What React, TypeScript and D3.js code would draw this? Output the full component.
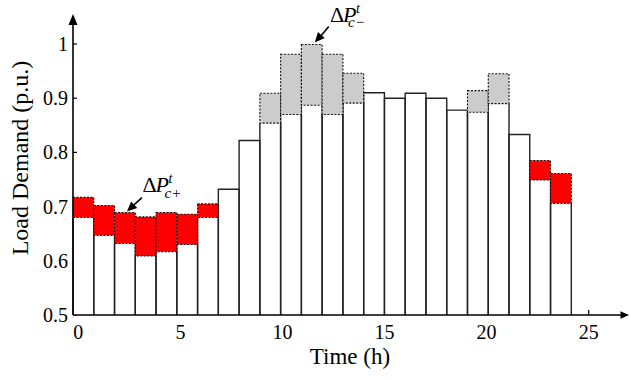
import React from "react";
import * as d3 from "d3";

const hours = [1,2,3,4,5,6,7,8,9,10,11,12,13,14,15,16,17,18,19,20,21,22,23,24];
// top of the white (final) load bar
const baseLoad = [0.680,0.647,0.632,0.609,0.617,0.630,0.680,0.732,0.822,0.854,0.870,0.887,0.870,0.891,0.910,0.900,0.909,0.900,0.878,0.874,0.890,0.833,0.749,0.706];
// load added (red, ΔP c+) – top of the red block
const addedTop = [0.717,0.702,0.689,0.681,0.689,0.686,0.705,null,null,null,null,null,null,null,null,null,null,null,null,null,null,null,0.785,0.761];
// load cut (grey, ΔP c−) – top of the grey block
const cutTop = [null,null,null,null,null,null,null,null,null,0.909,0.981,0.999,0.981,0.946,null,null,null,null,null,0.914,0.945,null,null,null];
const xTicks = [0,5,10,15,20,25];
const yTicks = [0.5,0.6,0.7,0.8,0.9,1];
const yTickLabels = ["0.5","0.6","0.7","0.8","0.9","1"];

const W = 629, H = 379;
const FONT = "Liberation Serif, Times New Roman, serif";

export default function App() {
  const x = d3.scaleLinear().domain([0, 25]).range([78.3, 588.7]);
  const band = d3.scaleBand<number>().domain(hours).range([73, 571.3]).padding(0);
  const y = d3.scaleLinear().domain([0.5, 1.0]).range([315, 44]);
  const x0 = 73, y0 = 315;

  const bars = hours.map((h, i) => {
    const bx = band(h)!;
    const bw = band.bandwidth();
    const top = y(baseLoad[i]);
    const shaded = addedTop[i] != null || cutTop[i] != null;
    const outline = shaded
      ? `M${bx},${y0}V${top}M${bx + bw},${y0}V${top}`
      : `M${bx},${y0}V${top}H${bx + bw}V${y0}`;
    return { h, i, bx, bw, top, outline, shaded };
  });

  const shadeRects: { key: string; x: number; y: number; w: number; h: number; fill: string }[] = [];
  bars.forEach(b => {
    const a = addedTop[b.i];
    const c = cutTop[b.i];
    if (a != null) shadeRects.push({ key: "a" + b.h, x: b.bx, y: y(a), w: b.bw, h: b.top - y(a), fill: "#ff0000" });
    if (c != null) shadeRects.push({ key: "c" + b.h, x: b.bx, y: y(c), w: b.bw, h: b.top - y(c), fill: "#cccccc" });
  });

  // annotation anchors from data
  const topTipX = band(12)! + band.bandwidth() / 2 + 3;
  const topTipY = y(cutTop[11]!) - 2;
  const botTipX = band(3)! + band.bandwidth() / 2 + 2;
  const botTipY = y(addedTop[2]!) - 1;

  const arrowHead = (tx: number, ty: number, fx: number, fy: number, len = 10, wid = 4.5) => {
    const ang = Math.atan2(ty - fy, tx - fx);
    const bx = tx - len * Math.cos(ang), by = ty - len * Math.sin(ang);
    const px = -Math.sin(ang) * wid, py = Math.cos(ang) * wid;
    return `M${tx},${ty}L${bx + px},${by + py}L${bx - px},${by - py}Z`;
  };

  return (
    <svg width={W} height={H} style={{ position: "absolute", left: 0, top: 0, background: "#fff" }} fontFamily={FONT}>
      <rect x={0} y={0} width={W} height={H} fill="#fff" />
      {/* ticks (drawn below bars) */}
      {yTicks.map(t => (
        <line key={"yt" + t} x1={x0} x2={x0 + 4} y1={y(t)} y2={y(t)} stroke="#000" strokeWidth={1.2} />
      ))}
      {xTicks.map(t => (
        <line key={"xt" + t} x1={x(t)} x2={x(t)} y1={y0} y2={y0 - 5} stroke="#000" strokeWidth={1.2} />
      ))}
      {/* white bars */}
      {bars.map(b => (
        <rect key={"w" + b.h} x={b.bx} y={b.top} width={b.bw} height={y0 - b.top} fill="#fff" />
      ))}
      {bars.map(b => (
        <path key={"o" + b.h} d={b.outline} fill="none" stroke="#222" strokeWidth={1.4} />
      ))}
      {/* shaded blocks */}
      {shadeRects.map(r => (
        <rect key={r.key} x={r.x} y={r.y} width={r.w} height={r.h} fill={r.fill}
          stroke="#111" strokeWidth={1.1} strokeDasharray="2,1.5" />
      ))}
      {/* axes */}
      <line x1={x0} x2={x0} y1={y0} y2={22} stroke="#000" strokeWidth={1.6} />
      <path d={`M${x0},14L${x0 - 4.5},25L${x0 + 4.5},25Z`} fill="#000" />
      <line x1={x0} x2={621} y1={y0} y2={y0} stroke="#000" strokeWidth={1.6} />
      <path d={`M629,${y0}L620.5,${y0 - 3.8}L620.5,${y0 + 3.8}Z`} fill="#000" />
      {/* tick labels */}
      {yTicks.map((t, i) => (
        <text key={"yl" + t} x={68} y={y(t) + 7} fontSize={20} textAnchor="end" fill="#000">{yTickLabels[i]}</text>
      ))}
      {xTicks.map(t => (
        <text key={"xl" + t} x={x(t)} y={339} fontSize={20} textAnchor="middle" fill="#000">{t}</text>
      ))}
      {/* axis titles */}
      <text x={350} y={364} fontSize={23} textAnchor="middle" fill="#000">Time (h)</text>
      <text transform="translate(28,158) rotate(-90)" fontSize={24} textAnchor="middle" fill="#000">Load Demand (p.u.)</text>
      {/* annotation top: ΔP c− */}
      <line x1={topTipX + 14} y1={topTipY - 16} x2={topTipX + 4} y2={topTipY - 4} stroke="#000" strokeWidth={1.6} />
      <path d={arrowHead(topTipX, topTipY, topTipX + 14, topTipY - 16)} fill="#000" />
      <text fill="#000">
        <tspan x={330} y={22} fontSize={22}>Δ</tspan>
        <tspan x={343} y={22} fontSize={22} fontStyle="italic">P</tspan>
        <tspan x={356} y={13} fontSize={14} fontStyle="italic">t</tspan>
        <tspan x={348} y={27} fontSize={15} fontStyle="italic">c−</tspan>
      </text>
      {/* annotation bottom: ΔP c+ */}
      <line x1={botTipX + 15} y1={botTipY - 14} x2={botTipX + 4} y2={botTipY - 4} stroke="#000" strokeWidth={1.6} />
      <path d={arrowHead(botTipX, botTipY, botTipX + 15, botTipY - 14)} fill="#000" />
      <text fill="#000">
        <tspan x={142.5} y={192} fontSize={22}>Δ</tspan>
        <tspan x={155.5} y={192} fontSize={22} fontStyle="italic">P</tspan>
        <tspan x={168.5} y={183} fontSize={14} fontStyle="italic">t</tspan>
        <tspan x={164.5} y={198} fontSize={15} fontStyle="italic">c+</tspan>
      </text>
    </svg>
  );
}
